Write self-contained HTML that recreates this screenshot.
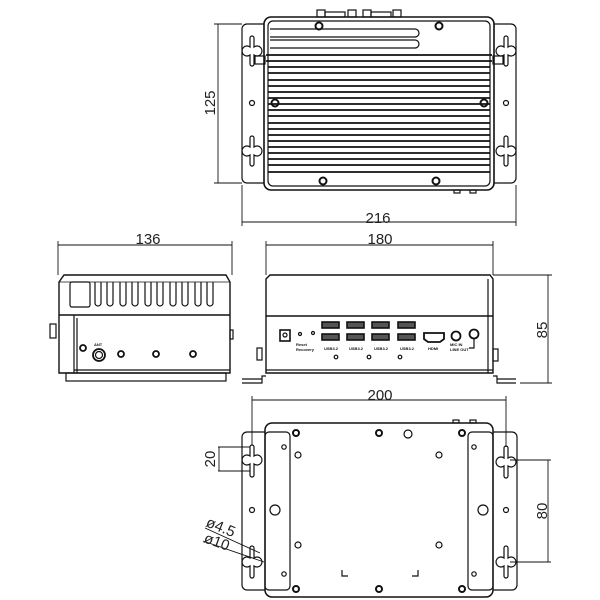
<!DOCTYPE html>
<html><head><meta charset="utf-8"><style>html,body{margin:0;padding:0;background:#fff}svg{display:block}</style></head><body>
<svg width="600" height="600" viewBox="0 0 600 600" xmlns="http://www.w3.org/2000/svg" font-family="Liberation Sans, sans-serif">
<g fill="none" stroke="#111" stroke-width="1.2">
<!-- ===== TOP VIEW ===== -->
<rect x="242" y="24" width="274" height="159" rx="5"/>
<rect x="264" y="17" width="230" height="173" rx="7" stroke-width="1.6" fill="#fff"/>
<rect x="268" y="21" width="222" height="165" rx="5"/>
<rect x="317" y="10" width="8" height="7"/><rect x="325" y="12" width="20" height="5"/><rect x="348" y="10" width="8" height="7"/>
<rect x="363" y="10" width="8" height="7"/><rect x="371" y="12" width="20" height="5"/><rect x="393" y="10" width="8" height="7"/>
<path d="M270 29 H415 a4 4 0 0 1 0 8 H270"/>
<path d="M270 40 H415 a4 4 0 0 1 0 8 H270"/>
<g stroke-width="1.8">
<line x1="266" y1="55" x2="492" y2="55"/><line x1="266" y1="61" x2="492" y2="61"/>
<line x1="268" y1="67" x2="490" y2="67"/><line x1="268" y1="73" x2="490" y2="73"/>
<line x1="268" y1="80" x2="490" y2="80"/><line x1="268" y1="86" x2="490" y2="86"/>
<line x1="268" y1="92" x2="490" y2="92"/><line x1="268" y1="98" x2="490" y2="98"/>
<line x1="268" y1="104" x2="490" y2="104"/><line x1="268" y1="110" x2="490" y2="110"/>
<line x1="268" y1="116" x2="490" y2="116"/><line x1="268" y1="123" x2="490" y2="123"/>
<line x1="268" y1="129" x2="490" y2="129"/><line x1="268" y1="135" x2="490" y2="135"/>
<line x1="268" y1="141" x2="490" y2="141"/><line x1="268" y1="147" x2="490" y2="147"/>
<line x1="268" y1="153" x2="490" y2="153"/><line x1="268" y1="159" x2="490" y2="159"/>
<line x1="268" y1="165" x2="490" y2="165"/><line x1="268" y1="172" x2="490" y2="172"/>
</g>
<rect x="255" y="56" width="10" height="8"/><rect x="493" y="56" width="10" height="8"/>
<g stroke-width="2"><circle cx="319" cy="26" r="3.5"/><circle cx="439" cy="26" r="3.5"/><circle cx="275" cy="103" r="3.5"/><circle cx="484" cy="103" r="3.5"/><circle cx="323" cy="181" r="3.5"/><circle cx="436" cy="181" r="3.5"/></g>
<circle cx="252" cy="103" r="2.5"/><circle cx="506" cy="103" r="2.5"/>
<path d="M250 38 a2 2 0 0 1 4 0 V47 a5 5 0 1 1 0 8 V64 a2 2 0 0 1 -4 0 V55 a5 5 0 1 1 0 -8 Z"/>
<path d="M504 38 a2 2 0 0 1 4 0 V47 a5 5 0 1 1 0 8 V64 a2 2 0 0 1 -4 0 V55 a5 5 0 1 1 0 -8 Z"/>
<path d="M250 138 a2 2 0 0 1 4 0 V147 a5 5 0 1 1 0 8 V164 a2 2 0 0 1 -4 0 V155 a5 5 0 1 1 0 -8 Z"/>
<path d="M504 138 a2 2 0 0 1 4 0 V147 a5 5 0 1 1 0 8 V164 a2 2 0 0 1 -4 0 V155 a5 5 0 1 1 0 -8 Z"/>
<rect x="454" y="190" width="6" height="3"/><rect x="470" y="190" width="6" height="3"/>
<g stroke-width="0.9">
<line x1="218" y1="24" x2="218" y2="183"/><line x1="214" y1="24" x2="242" y2="24"/><line x1="214" y1="183" x2="242" y2="183"/>
<line x1="242" y1="222" x2="516" y2="222"/><line x1="242" y1="185" x2="242" y2="226"/><line x1="516" y1="185" x2="516" y2="226"/>
</g>

<!-- ===== LEFT SIDE VIEW ===== -->
<g stroke-width="0.9"><line x1="58" y1="245" x2="232" y2="245"/><line x1="58" y1="241" x2="58" y2="275"/><line x1="232" y1="241" x2="232" y2="275"/></g>
<path d="M59 282 L64 275 H226 L230 282 V373 H59 Z" stroke-width="1.4"/>
<line x1="59" y1="282" x2="230" y2="282" stroke-width="0.8"/>
<line x1="59" y1="315" x2="230" y2="315" stroke-width="1.4"/>
<rect x="70" y="282" width="20" height="25" rx="2"/>
<path d="M95 282 V303 a3 3 0 0 0 6 0 V282 M107 282 V303 a3 3 0 0 0 6 0 V282 M120 282 V303 a3 3 0 0 0 6 0 V282 M132 282 V303 a3 3 0 0 0 6 0 V282 M145 282 V303 a3 3 0 0 0 6 0 V282 M157 282 V303 a3 3 0 0 0 6 0 V282 M170 282 V303 a3 3 0 0 0 6 0 V282 M182 282 V303 a3 3 0 0 0 6 0 V282 M195 282 V303 a3 3 0 0 0 6 0 V282 M207 282 V303 a3 3 0 0 0 6 0 V282"/>
<line x1="74" y1="315" x2="74" y2="373"/><line x1="77" y1="318" x2="77" y2="373"/>
<line x1="74" y1="370" x2="230" y2="370"/>
<rect x="66" y="373" width="160" height="8"/>
<rect x="50" y="324" width="6" height="14"/><rect x="230" y="330" width="3" height="9"/>
<circle cx="83" cy="348" r="3" stroke-width="1.8"/>
<circle cx="99" cy="355" r="6" stroke-width="1.8"/><circle cx="99" cy="355" r="3.5"/>
<circle cx="121" cy="354" r="3" stroke-width="1.8"/><circle cx="156" cy="354" r="3" stroke-width="1.8"/><circle cx="193" cy="354" r="3" stroke-width="1.8"/>

<!-- ===== FRONT VIEW ===== -->
<g stroke-width="0.9"><line x1="266" y1="245" x2="493" y2="245"/><line x1="266" y1="241" x2="266" y2="275"/><line x1="493" y1="241" x2="493" y2="275"/>
<line x1="548" y1="275" x2="548" y2="383"/><line x1="493" y1="275" x2="552" y2="275"/><line x1="520" y1="383" x2="552" y2="383"/></g>
<path d="M266 279 L270 275 H490 L493 279 V373 H266 Z" stroke-width="1.4"/>
<line x1="266" y1="316" x2="493" y2="316" stroke-width="1.4"/>
<line x1="488" y1="279" x2="488" y2="373"/>
<line x1="266" y1="370" x2="493" y2="370"/>
<path d="M242 383 H262 V376 H266 M242 379 H262" />
<path d="M516 383 H497 V376 H493 M516 379 H497"/>
<rect x="257" y="348" width="5" height="12"/><rect x="493" y="349" width="5" height="12"/>
<rect x="280" y="330" width="10" height="11" stroke-width="1.6"/><circle cx="285" cy="335" r="2"/>
<circle cx="300" cy="334" r="1.5"/><circle cx="313" cy="333" r="1.5"/>
<g stroke-width="1.6" fill="#555">
<rect x="322" y="322" width="17" height="6"/><rect x="322" y="334" width="17" height="6"/>
<rect x="347" y="322" width="17" height="6"/><rect x="347" y="334" width="17" height="6"/>
<rect x="372" y="322" width="17" height="6"/><rect x="372" y="334" width="17" height="6"/>
<rect x="398" y="322" width="17" height="6"/><rect x="398" y="334" width="17" height="6"/>
</g>
<g stroke-width="1.8">
<path d="M424 333 H444 V339 L440 342 H428 L424 339 Z"/>
<circle cx="456" cy="336" r="4.5"/><circle cx="474" cy="334" r="4.5"/>
</g>
<path d="M474 339 V348 H469"/>
<circle cx="336" cy="357" r="1.8"/><circle cx="369" cy="357" r="1.8"/><circle cx="400" cy="357" r="1.8"/>

<!-- ===== BOTTOM VIEW ===== -->
<g stroke-width="0.9"><line x1="252" y1="400" x2="506" y2="400"/><line x1="252" y1="396" x2="252" y2="445"/><line x1="506" y1="396" x2="506" y2="447"/>
<line x1="218" y1="447" x2="250" y2="447"/><line x1="218" y1="471" x2="250" y2="471"/><line x1="219" y1="447" x2="219" y2="471"/>
<line x1="510" y1="460" x2="551" y2="460"/><line x1="510" y1="562" x2="551" y2="562"/><line x1="548" y1="460" x2="548" y2="562"/>
<line x1="205" y1="528" x2="260" y2="553"/><line x1="203" y1="541" x2="264" y2="562"/></g>
<rect x="242" y="432" width="275" height="158" rx="5"/>
<rect x="265" y="423" width="228" height="174" rx="7" stroke-width="1.5" fill="#fff"/>
<rect x="265" y="432" width="25" height="158" rx="4"/>
<rect x="468" y="432" width="25" height="158" rx="4"/>
<rect x="453" y="420" width="6" height="3"/><rect x="470" y="420" width="6" height="3"/>
<g stroke-width="2"><circle cx="296" cy="433" r="3"/><circle cx="379" cy="433" r="3"/><circle cx="462" cy="433" r="3"/><circle cx="296" cy="589" r="3"/><circle cx="379" cy="589" r="3"/><circle cx="462" cy="589" r="3"/></g>
<circle cx="408" cy="434" r="4"/>
<circle cx="284" cy="447" r="2.2"/><circle cx="474" cy="447" r="2.2"/><circle cx="284" cy="574" r="2.2"/><circle cx="474" cy="574" r="2.2"/>
<circle cx="298" cy="455" r="3"/><circle cx="439" cy="455" r="3"/><circle cx="298" cy="545" r="3"/><circle cx="439" cy="545" r="3"/>
<circle cx="275" cy="510" r="5"/><circle cx="483" cy="510" r="5"/>
<circle cx="252" cy="510" r="2.5"/><circle cx="506" cy="510" r="2.5"/>
<path d="M250 447 a2 2 0 0 1 4 0 V456 a5 5 0 1 1 0 8 V475 a2 2 0 0 1 -4 0 V464 a5 5 0 1 1 0 -8 Z"/>
<path d="M250 548 a2 2 0 0 1 4 0 V558 a5 5 0 1 1 0 8 V576 a2 2 0 0 1 -4 0 V566 a5 5 0 1 1 0 -8 Z"/>
<path d="M504 448 a2 2 0 0 1 4 0 V458 a5 5 0 1 1 0 8 V476 a2 2 0 0 1 -4 0 V466 a5 5 0 1 1 0 -8 Z"/>
<path d="M504 548 a2 2 0 0 1 4 0 V558 a5 5 0 1 1 0 8 V576 a2 2 0 0 1 -4 0 V566 a5 5 0 1 1 0 -8 Z"/>
<path d="M342 570 v6 h6 M418 570 v6 h-6"/>
</g>
<g fill="#222" font-size="15">
<text x="378" y="223" text-anchor="middle">216</text>
<text transform="translate(215,103) rotate(-90)" text-anchor="middle">125</text>
<text x="148" y="244" text-anchor="middle">136</text>
<text x="380" y="244" text-anchor="middle">180</text>
<text transform="translate(547,330) rotate(-90)" text-anchor="middle">85</text>
<text x="380" y="400" text-anchor="middle">200</text>
<text transform="translate(215,459) rotate(-90)" text-anchor="middle">20</text>
<text transform="translate(547,511) rotate(-90)" text-anchor="middle">80</text>
<text transform="translate(205,526) rotate(22)">ø4.5</text>
<text transform="translate(203,542) rotate(20)">ø10</text>
</g>
<g fill="#111" font-size="4" font-weight="bold">
<text x="94" y="346">ANT</text>
<text x="296" y="346">Reset</text><text x="296" y="351">Recovery</text>
<text x="324" y="350">USB3.2</text><text x="349" y="350">USB3.2</text><text x="374" y="350">USB3.2</text><text x="400" y="350">USB3.2</text>
<text x="428" y="350">HDMI</text>
<text x="450" y="346">MIC IN</text><text x="450" y="351">LINE OUT</text>
</g>
</svg>
</body></html>
